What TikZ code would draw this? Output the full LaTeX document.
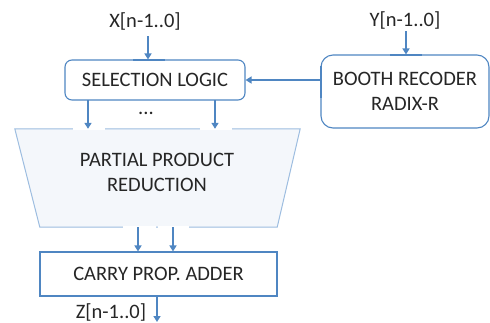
\documentclass[tikz,border=0pt]{standalone}
\usepackage{fontspec}
\setmainfont{Carlito}
\usetikzlibrary{arrows.meta}
\definecolor{lineblue}{HTML}{4F86C2}
\definecolor{lightblue}{HTML}{9DBDE0}
\definecolor{txt}{HTML}{262626}
\definecolor{pfill}{HTML}{F4F7FB}
\tikzset{
  x=1pt,y=-1pt,
  every node/.style={font=\fontsize{20.5}{24}\selectfont, text=txt},
  blk/.style={draw=lineblue, line width=1.1pt, fill=white, align=center, inner sep=0pt},
  lbl/.style={inner sep=1pt},
  arr/.style={draw=lineblue, line width=1.8pt, -{Triangle[width=7pt,length=6pt]}},
  glue/.style={draw=lineblue, line width=2pt},
  gluelight/.style={draw=white, line width=2pt}
}
\begin{document}
\begin{tikzpicture}
\useasboundingbox (0,0) rectangle (490,322);
% nodes
\node[blk, rounded corners=7pt, minimum width=180pt, minimum height=40pt] (sel) at (155,80) {SELECTION LOGIC};
\node[blk, rounded corners=12pt, minimum width=168pt, minimum height=73pt] (booth) at (405,91.5) {BOOTH RECODER\\[1pt]RADIX-R};
\node[minimum width=285pt, minimum height=98pt, inner sep=0pt] (ppr) at (157.5,178) {};
\fill[pfill] (ppr.north west) -- (ppr.north east) -- ([xshift=-23pt]ppr.south east) -- ([xshift=25pt]ppr.south west) -- cycle;
\draw[lightblue, line width=1pt] (ppr.north west) -- (ppr.north east) -- ([xshift=-23pt]ppr.south east) -- ([xshift=25pt]ppr.south west) -- cycle;
\node[align=center, text=txt] (pprtext) at (157,172) {PARTIAL PRODUCT\\[1pt]REDUCTION};
\node[blk, minimum width=237pt, minimum height=44pt] (cpa) at (158.5,274) {CARRY PROP. ADDER};
\node[lbl] (xl) at (145,21) {X[n-1..0]};
\node[lbl] (yl) at (405,20) {Y[n-1..0]};
\node[lbl] (zl) at (111,312) {Z[n-1..0]};
\node[lbl] (dots) at (146,113) {...};
% coordinates
\coordinate (xa) at (148,36);
\coordinate (ya) at (406,31);
\coordinate (s1) at (88,100);
\coordinate (s2) at (215,100);
\coordinate (p1) at (138,227);
\coordinate (p2) at (173,227);
\coordinate (za) at (157,296);
\coordinate (zend) at (157,322);
% glue marks
\draw[glue] (133,60) -- (165,60);
\draw[glue] (390,55) -- (422,55);
\draw[lineblue, line width=1.8pt] (321,66) -- (321,98);
\draw[glue] (123,252) -- (156,252);
\draw[glue] (158,252) -- (189,252);
\draw[glue] (140,296) -- (173,296);
\draw[gluelight] (73,129) -- (105,129);
\draw[gluelight] (200,129) -- (232,129);
\draw[gluelight] (123,227) -- (156,227);
\draw[gluelight] (158,227) -- (189,227);
% connectors
\draw[arr] (xa) -- (xa |- sel.north);
\draw[arr] (ya) -- (ya |- booth.north);
\draw[arr] (booth.west |- sel.east) -- (sel.east);
\draw[arr] (s1) -- (s1 |- ppr.north);
\draw[arr] (s2) -- (s2 |- ppr.north);
\draw[arr] (p1) -- (p1 |- cpa.north);
\draw[arr] (p2) -- (p2 |- cpa.north);
\draw[arr] (za) -- (zend);
\end{tikzpicture}
\end{document}
